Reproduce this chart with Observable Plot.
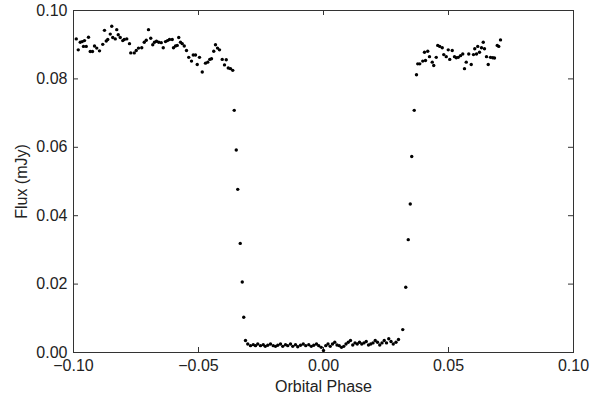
<!DOCTYPE html>
<html>
<head>
<meta charset="utf-8">
<script src="https://cdn.jsdelivr.net/npm/d3@7"></script>
<script src="https://cdn.jsdelivr.net/npm/@observablehq/plot@0.6"></script>
<style>
  html, body { margin: 0; padding: 0; background: #fff; }
</style>
</head>
<body>
<div id="chart"></div>
<script>
const phase = [
  -0.0989,-0.0981,-0.0973,-0.0965,-0.0960,-0.0956,-0.0949,-0.0940,-0.0933,-0.0924,
  -0.0916,-0.0907,-0.0896,-0.0883,-0.0876,-0.0869,-0.0863,-0.0853,-0.0847,-0.0843,
  -0.0833,-0.0827,-0.0821,-0.0813,-0.0803,-0.0797,-0.0787,-0.0776,-0.0771,-0.0757,
  -0.0749,-0.0740,-0.0727,-0.0717,-0.0709,-0.0700,-0.0691,-0.0683,-0.0676,-0.0668,
  -0.0659,-0.0649,-0.0641,-0.0632,-0.0624,-0.0616,-0.0605,-0.0600,-0.0592,-0.0585,
  -0.0579,-0.0572,-0.0565,-0.0557,-0.0548,-0.0539,-0.0528,-0.0521,-0.0512,-0.0505,
  -0.0496,-0.0485,-0.0472,-0.0463,-0.0455,-0.0448,-0.0439,-0.0432,-0.0424,-0.0416,
  -0.0405,-0.0396,-0.0389,-0.0381,-0.0372,-0.0363,
  -0.0357,-0.0349,-0.0343,-0.0333,-0.0325,-0.0319,
  -0.0312,-0.0303,-0.0292,-0.0281,-0.0272,-0.0263,-0.0252,-0.0241,-0.0233,-0.0223,
  -0.0212,-0.0201,-0.0192,-0.0183,-0.0172,-0.0163,-0.0152,-0.0143,-0.0132,-0.0123,
  -0.0112,-0.0103,-0.0092,-0.0081,-0.0071,-0.0059,-0.0049,-0.0039,-0.0028,-0.0019,
  -0.0009,0.0000,0.0009,0.0018,0.0027,0.0036,0.0045,0.0054,0.0063,0.0072,
  0.0081,0.0090,0.0099,0.0108,0.0117,0.0126,0.0135,0.0144,0.0153,0.0162,
  0.0171,0.0180,0.0189,0.0198,0.0207,0.0216,0.0225,0.0234,0.0243,0.0252,
  0.0261,0.0270,0.0279,0.0290,0.0300,0.0317,
  0.0329,0.0339,0.0347,0.0353,0.0363,
  0.0372,0.0377,0.0385,0.0397,0.0404,0.0408,0.0417,0.0424,0.0435,0.0441,
  0.0451,0.0457,0.0465,0.0475,0.0481,0.0491,0.0499,0.0505,0.0515,0.0524,
  0.0531,0.0539,0.0548,0.0557,0.0564,0.0571,0.0581,0.0591,0.0600,0.0605,
  0.0612,0.0617,0.0624,0.0632,0.0639,0.0644,0.0652,0.0659,0.0668,0.0677,
  0.0684,0.0695,0.0701,0.0708
];
const flux = [
  0.0917,0.0885,0.0907,0.0909,0.0895,0.0912,0.0895,0.0922,0.0880,0.0880,
  0.0896,0.0890,0.0882,0.0901,0.0942,0.0911,0.0915,0.0931,0.0954,0.0921,
  0.0917,0.0944,0.0929,0.0921,0.0912,0.0915,0.0917,0.0903,0.0876,0.0876,
  0.0883,0.0890,0.0891,0.0907,0.0913,0.0944,0.0919,0.0900,0.0907,0.0910,
  0.0907,0.0906,0.0891,0.0909,0.0912,0.0915,0.0915,0.0891,0.0896,0.0898,
  0.0921,0.0907,0.0903,0.0896,0.0883,0.0863,0.0852,0.0870,0.0870,0.0842,
  0.0863,0.0820,0.0846,0.0849,0.0857,0.0859,0.0881,0.0900,0.0890,0.0885,
  0.0857,0.0841,0.0856,0.0832,0.0830,0.0825,
  0.0708,0.0592,0.0477,0.0319,0.0206,0.0103,
  0.0035,0.0025,0.0020,0.0023,0.0020,0.0025,0.0020,0.0023,0.0018,0.0021,
  0.0025,0.0020,0.0018,0.0021,0.0025,0.0018,0.0023,0.0020,0.0025,0.0018,
  0.0023,0.0017,0.0021,0.0025,0.0020,0.0023,0.0018,0.0021,0.0025,0.0020,
  0.0015,0.0006,0.0020,0.0025,0.0018,0.0025,0.0030,0.0022,0.0020,0.0015,
  0.0018,0.0025,0.0030,0.0035,0.0022,0.0028,0.0025,0.0030,0.0025,0.0028,
  0.0032,0.0022,0.0025,0.0028,0.0035,0.0030,0.0022,0.0028,0.0035,0.0028,
  0.0040,0.0032,0.0025,0.0030,0.0038,0.0067,
  0.0191,0.0330,0.0434,0.0573,0.0708,
  0.0812,0.0844,0.0844,0.0852,0.0878,0.0854,0.0881,0.0865,0.0849,0.0839,
  0.0863,0.0898,0.0895,0.0891,0.0871,0.0865,0.0885,0.0857,0.0883,0.0865,
  0.0862,0.0863,0.0868,0.0873,0.0830,0.0849,0.0873,0.0842,0.0871,0.0888,
  0.0873,0.0895,0.0878,0.0891,0.0907,0.0888,0.0865,0.0842,0.0863,0.0862,
  0.0861,0.0898,0.0895,0.0914
];
const xTicks = [-0.10, -0.05, 0.00, 0.05, 0.10];
const yTicks = [0.00, 0.02, 0.04, 0.06, 0.08, 0.10];

const data = phase.map((p, i) => ({phase: p, flux: flux[i]}));

const W = 609, H = 401, mL = 73, mR = 36, mT = 10, mB = 49;
const pw = W - mL - mR, ph = H - mT - mB, tl = 5;
const axisColor = "#333";

const chart = Plot.plot({
  width: W, height: H,
  marginLeft: mL, marginRight: mR, marginTop: mT, marginBottom: mB,
  x: {domain: [-0.1, 0.1]},
  y: {domain: [0, 0.1]},
  style: {fontFamily: "'Liberation Sans', Arial, sans-serif", fontSize: "16px", color: "#222", background: "#fff"},
  marks: [
    Plot.tickX(xTicks, {x: d => d, insetTop: ph - tl, stroke: axisColor}),
    Plot.tickX(xTicks, {x: d => d, insetBottom: ph - tl, stroke: axisColor}),
    Plot.tickY(yTicks, {y: d => d, insetRight: pw - tl, stroke: axisColor}),
    Plot.tickY(yTicks, {y: d => d, insetLeft: pw - tl, stroke: axisColor}),
    Plot.axisX(xTicks, {tickSize: 0, tickPadding: 7, tickFormat: d3.format(".2f"),
      label: "Orbital Phase", labelAnchor: "center", labelArrow: "none", labelOffset: 39}),
    Plot.axisY(yTicks, {tickSize: 0, tickPadding: 6, tickFormat: d3.format(".2f"),
      label: "Flux (mJy)", labelAnchor: "center", labelArrow: "none", labelOffset: 58}),
    Plot.dot(data, {x: "phase", y: "flux", r: 1.7, fill: "black", stroke: "none"}),
    Plot.frame({stroke: axisColor, strokeWidth: 1})
  ]
});
document.getElementById("chart").appendChild(chart);
</script>
</body>
</html>
